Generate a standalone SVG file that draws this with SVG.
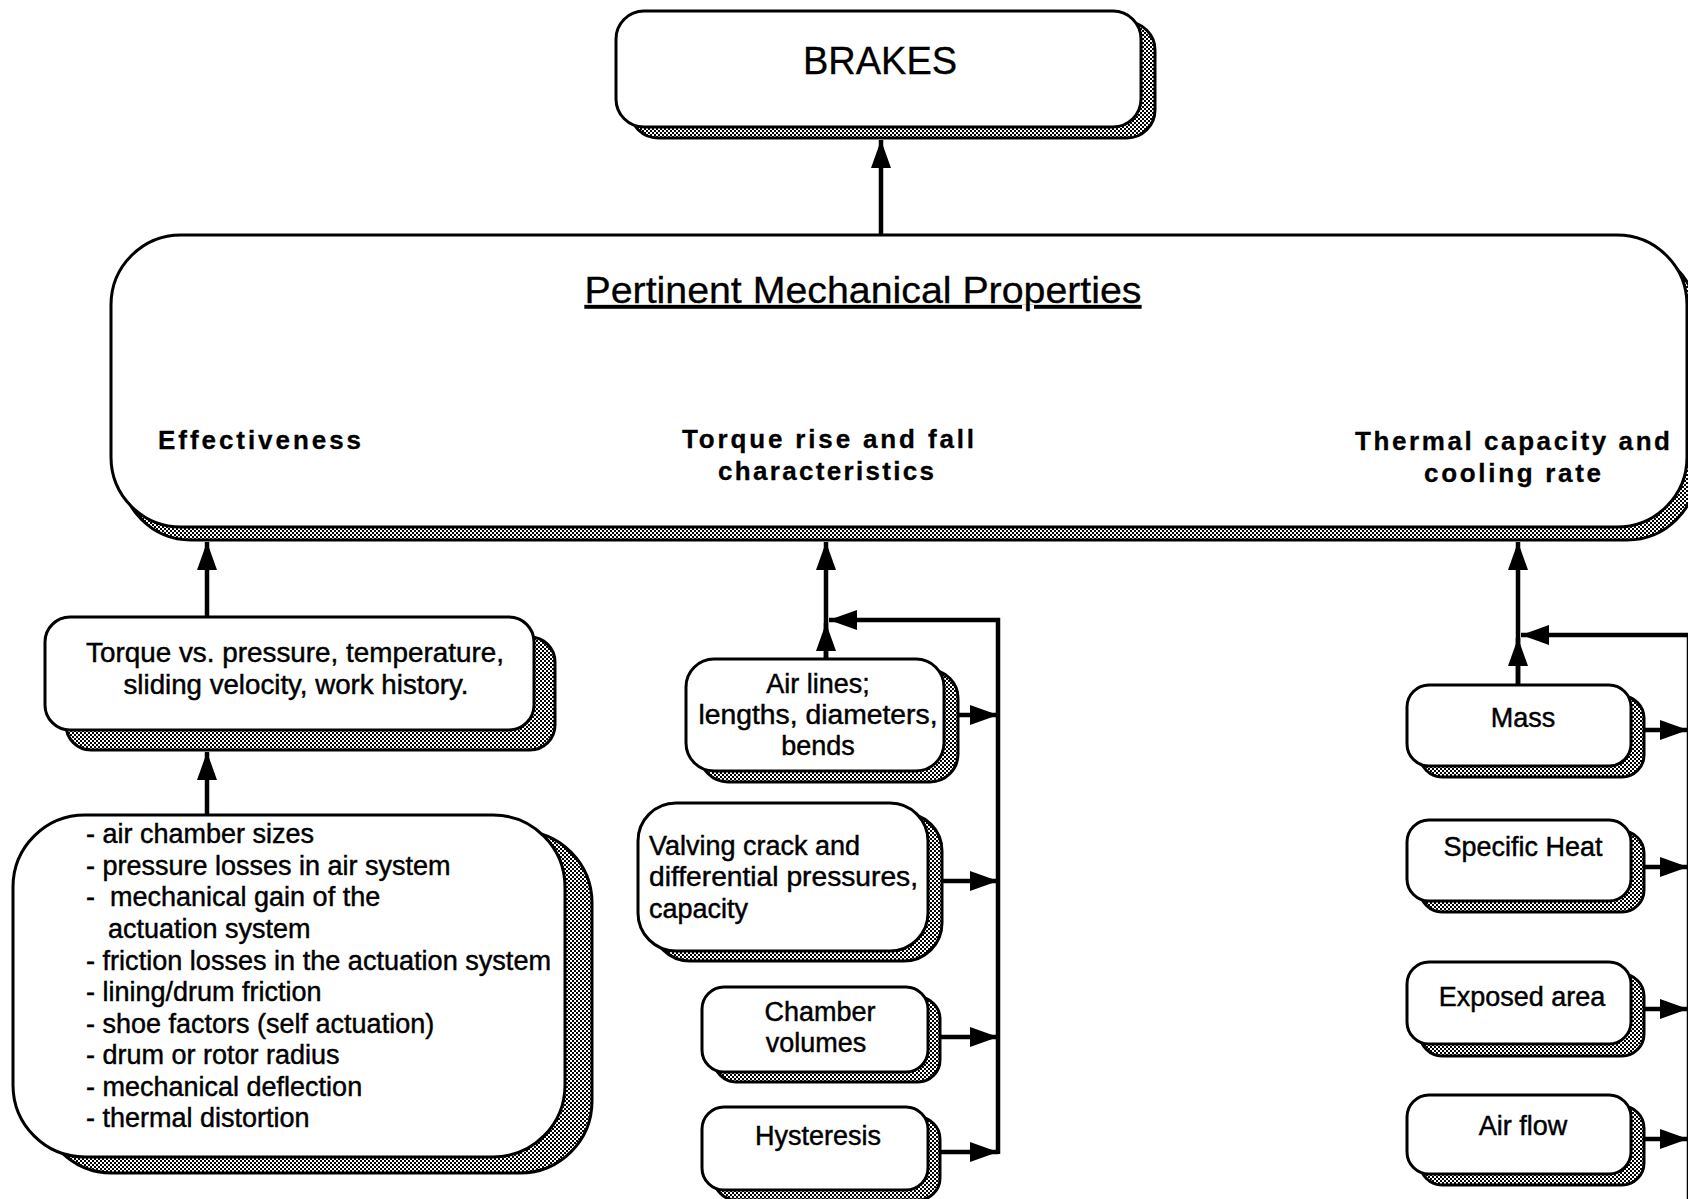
<svg xmlns="http://www.w3.org/2000/svg" width="1688" height="1199" viewBox="0 0 1688 1199">
<defs>
  <pattern id="dots" width="4" height="4" patternUnits="userSpaceOnUse">
    <rect width="4" height="4" fill="#ffffff"/>
    <rect x="0" y="0" width="2" height="2" fill="#000"/>
    <rect x="2" y="2" width="2" height="2" fill="#000"/>
  </pattern>
  <marker id="ah" viewBox="0 0 28 20" refX="28" refY="10" markerWidth="28" markerHeight="20" markerUnits="userSpaceOnUse" orient="auto">
    <path d="M0,0 L28,10 L0,20 z" fill="#000"/>
  </marker>
  <style>
    .box { fill: #fff; stroke: #000; stroke-width: 3; }
    .shd { fill: url(#dots); stroke: #000; stroke-width: 3; }
    .t { font-family: "Liberation Sans", Arial, sans-serif; font-size: 27px; fill: #000; stroke: #000; stroke-width: 0.45; }
    .c { text-anchor: middle; }
    .b { font-family: "Liberation Sans", Arial, sans-serif; font-size: 26px; font-weight: bold; fill: #000; stroke: #000; stroke-width: 0.3; }
    .con { fill: none; stroke: #000; stroke-width: 4.5; }
  </style>
</defs>
<rect width="1688" height="1199" fill="#fff"/>

<g id="brakes">
  <rect class="shd" x="630" y="22" width="525" height="116" rx="28"/>
  <rect class="box" x="616" y="11" width="525" height="116" rx="28"/>
  <text class="t c" x="880" y="74" style="font-size:38px;stroke-width:0.3">BRAKES</text>
</g>

<g id="pertinent">
  <rect class="shd" x="121" y="248" width="1576" height="292" rx="70"/>
  <rect class="box" x="111" y="235" width="1576" height="292" rx="70"/>
  <text class="t c" x="863" y="303" style="font-size:37px;stroke-width:0.3" text-decoration="underline" textLength="557" lengthAdjust="spacingAndGlyphs">Pertinent Mechanical Properties</text>
  <text class="b" x="158" y="449" textLength="203" lengthAdjust="spacing">Effectiveness</text>
  <text class="b" x="682" y="448" textLength="292" lengthAdjust="spacing">Torque rise and fall</text>
  <text class="b" x="718" y="480" textLength="216" lengthAdjust="spacing">characteristics</text>
  <text class="b" x="1355" y="450" textLength="315" lengthAdjust="spacing">Thermal capacity and</text>
  <text class="b" x="1424" y="482" textLength="177" lengthAdjust="spacing">cooling rate</text>
</g>

<g id="torque-vs">
  <rect class="shd" x="66" y="637" width="489" height="113" rx="25"/>
  <rect class="box" x="45" y="617" width="489" height="113" rx="25"/>
  <text class="t c" x="295" y="662" textLength="418" lengthAdjust="spacingAndGlyphs">Torque vs. pressure, temperature,</text>
  <text class="t c" x="296" y="694" textLength="345" lengthAdjust="spacingAndGlyphs">sliding velocity, work history.</text>
</g>

<g id="factors">
  <rect class="shd" x="40" y="831" width="552" height="342" rx="72"/>
  <rect class="box" x="13" y="815" width="552" height="342" rx="72"/>
  <text class="t" x="86" y="843">- air chamber sizes</text>
  <text class="t" x="86" y="875">- pressure losses in air system</text>
  <text class="t" x="86" y="906" xml:space="preserve">-  mechanical gain of the</text>
  <text class="t" x="108" y="938">actuation system</text>
  <text class="t" x="86" y="970" textLength="465" lengthAdjust="spacingAndGlyphs">- friction losses in the actuation system</text>
  <text class="t" x="86" y="1001">- lining/drum friction</text>
  <text class="t" x="86" y="1033">- shoe factors (self actuation)</text>
  <text class="t" x="86" y="1064">- drum or rotor radius</text>
  <text class="t" x="86" y="1096">- mechanical deflection</text>
  <text class="t" x="86" y="1127">- thermal distortion</text>
</g>

<g id="air-lines">
  <rect class="shd" x="700" y="670" width="258" height="112" rx="28"/>
  <rect class="box" x="686" y="659" width="258" height="112" rx="28"/>
  <text class="t c" x="818" y="693">Air lines;</text>
  <text class="t c" x="818" y="724" textLength="239" lengthAdjust="spacingAndGlyphs">lengths, diameters,</text>
  <text class="t c" x="818" y="755">bends</text>
</g>

<g id="valving">
  <rect class="shd" x="652" y="813" width="290" height="148" rx="38"/>
  <rect class="box" x="638" y="803" width="290" height="148" rx="38"/>
  <text class="t" x="649" y="855">Valving crack and</text>
  <text class="t" x="649" y="886" textLength="269" lengthAdjust="spacingAndGlyphs">differential pressures,</text>
  <text class="t" x="649" y="918">capacity</text>
</g>

<g id="chamber">
  <rect class="shd" x="714" y="997" width="226" height="85" rx="22"/>
  <rect class="box" x="702" y="987" width="226" height="85" rx="22"/>
  <text class="t c" x="820" y="1021">Chamber</text>
  <text class="t c" x="816" y="1052">volumes</text>
</g>

<g id="hysteresis">
  <rect class="shd" x="714" y="1117" width="226" height="83" rx="22"/>
  <rect class="box" x="702" y="1107" width="226" height="83" rx="22"/>
  <text class="t c" x="818" y="1145">Hysteresis</text>
</g>

<g id="mass">
  <rect class="shd" x="1420" y="696" width="224" height="81" rx="22"/>
  <rect class="box" x="1407" y="685" width="224" height="81" rx="22"/>
  <text class="t c" x="1523" y="727">Mass</text>
</g>

<g id="specific-heat">
  <rect class="shd" x="1420" y="831" width="224" height="81" rx="22"/>
  <rect class="box" x="1407" y="820" width="224" height="81" rx="22"/>
  <text class="t c" x="1523" y="856">Specific Heat</text>
</g>

<g id="exposed-area">
  <rect class="shd" x="1420" y="974" width="224" height="82" rx="22"/>
  <rect class="box" x="1407" y="962" width="224" height="82" rx="22"/>
  <text class="t c" x="1522" y="1006">Exposed area</text>
</g>

<g id="air-flow">
  <rect class="shd" x="1420" y="1106" width="224" height="79" rx="22"/>
  <rect class="box" x="1407" y="1095" width="224" height="79" rx="22"/>
  <text class="t c" x="1523" y="1135">Air flow</text>
</g>

<g id="connectors">
  <path class="con" d="M881,235 V140" marker-end="url(#ah)"/>
  <path class="con" d="M207,617 V542" marker-end="url(#ah)"/>
  <path class="con" d="M207,815 V752" marker-end="url(#ah)"/>
  <path class="con" d="M826,659 V542" marker-end="url(#ah)"/>
  <path class="con" d="M826,659 V623" marker-end="url(#ah)"/>
  <path class="con" d="M998,1154 V620 H829" marker-end="url(#ah)"/>
  <path class="con" d="M958,715 H998" marker-end="url(#ah)"/>
  <path class="con" d="M942,881 H998" marker-end="url(#ah)"/>
  <path class="con" d="M940,1037 H998" marker-end="url(#ah)"/>
  <path class="con" d="M940,1152 H998" marker-end="url(#ah)"/>
  <path class="con" d="M1518,685 V542" marker-end="url(#ah)"/>
  <path class="con" d="M1518,685 V638" marker-end="url(#ah)"/>
  <path class="con" d="M1689,1199 V635 H1521" marker-end="url(#ah)"/>
  <path class="con" d="M1644,730 H1688" marker-end="url(#ah)"/>
  <path class="con" d="M1644,867 H1688" marker-end="url(#ah)"/>
  <path class="con" d="M1644,1009 H1688" marker-end="url(#ah)"/>
  <path class="con" d="M1644,1139 H1688" marker-end="url(#ah)"/>
</g>
</svg>
